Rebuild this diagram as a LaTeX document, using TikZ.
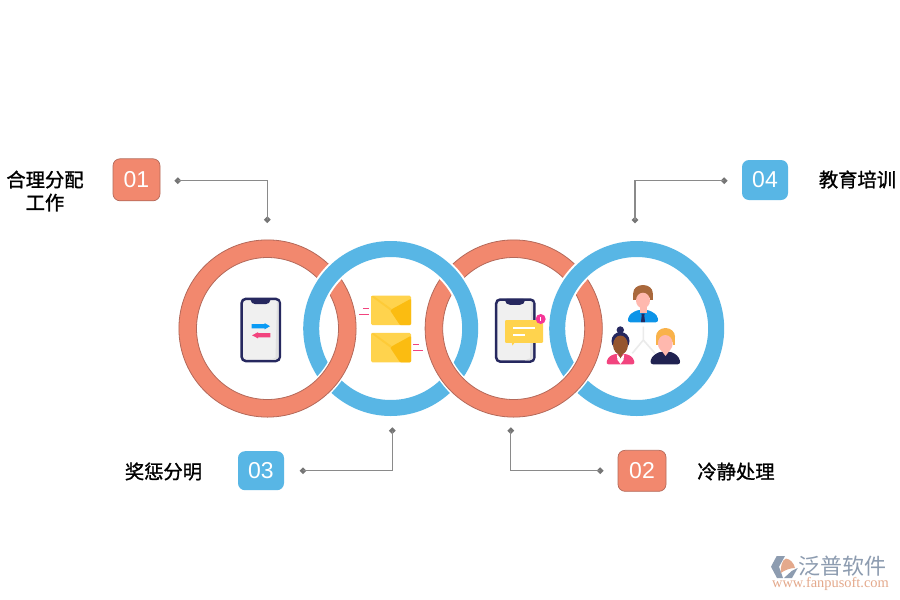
\documentclass[tikz,border=0pt]{standalone}
\usepackage{fontspec}
\setmainfont{Liberation Sans}
\newfontfamily\cjk[FakeBold=1.2]{Noto Sans CJK SC}
\newfontfamily\cjkplain{Noto Sans CJK SC}
\newfontfamily\serifw{Liberation Serif}
\usetikzlibrary{shapes.geometric,calc}
\definecolor{salmon}{HTML}{F2886E}
\definecolor{salmonedge}{HTML}{B4695A}
\definecolor{skyb}{HTML}{58B6E5}
\definecolor{navy}{HTML}{26285F}
\definecolor{connG}{HTML}{8A8A8A}
\definecolor{yell}{HTML}{FFD34D}
\definecolor{yelld}{HTML}{FBBC11}
\definecolor{pinkm}{HTML}{F2447E}
\definecolor{skin}{HTML}{FFB8AE}
\definecolor{arrowb}{HTML}{0A9BF5}
\definecolor{shirtb}{HTML}{0D94E8}
\definecolor{hairb}{HTML}{A9683C}
\definecolor{skinb}{HTML}{96562F}
\definecolor{hairy}{HTML}{F9B24A}
\definecolor{wmgray}{HTML}{8D9CB0}
\definecolor{wmor}{HTML}{E4A98C}
\tikzset{
  lab/.style={font=\cjk\fontsize{19.3}{23}\selectfont,align=center,text=black,inner sep=0pt},
  badge/.style={minimum width=47pt,minimum height=41pt,rounded corners=7pt,inner sep=0pt,text=white,font=\fontsize{23}{23}\selectfont},
  badgeS/.style={badge,fill=salmon,draw=salmonedge,line width=.7pt},
  badgeB/.style={badge,fill=skyb},
  dot/.style={diamond,fill=connG!85!black,minimum size=7pt,inner sep=0pt},
  conn/.style={draw=connG,line width=1.3pt},
  dashp/.style={draw=pinkm,line width=1pt},
}
\newcommand{\salmonring}[1]{%
  \draw[white,line width=21.5pt] (#1) circle[radius=79.8];
  \draw[salmon,line width=17.6pt] (#1) circle[radius=79.8];
  \draw[salmonedge,line width=.8pt] (#1) circle[radius=88.6] (#1) circle[radius=71];
}
\newcommand{\bluering}[1]{%
  \draw[white,line width=20pt] (#1) circle[radius=79.5];
  \draw[skyb,line width=16pt] (#1) circle[radius=79.5];
}
\newcommand{\envelope}[1]{%
  \begin{scope}[shift={(#1)}]
    \fill[yell,rounded corners=1.5pt] (0,0) rectangle (40,29.5);
    \fill[yelld,rounded corners=1pt] (29,29.5) -- (19,14.5) -- (40,3) -- (40,29.5) -- cycle;
    \fill[yelld!35!yell] (0,0.5) -- (19,14.5) -- (21,13.5) -- (3,0.5) -- cycle;
  \end{scope}
}
\newcommand{\phonebody}[1]{%
  \begin{scope}[shift={(#1)}]
    \draw[navy,fill=white!94!black,line width=2.5pt,rounded corners=4pt] (1.2,1.2) rectangle (39.3,63.3);
    \fill[black!12] (36.5,4) -- (38,4) -- (38,60) -- (35,62) -- (30,62) -- (35,60) -- cycle;
    \fill[navy,rounded corners=2pt] (10,0.5) -- (30,0.5) -- (30,4) -- (27,6.5) -- (13,6.5) -- (10,4) -- cycle;
  \end{scope}
}
\begin{document}
\begin{tikzpicture}[x=1pt,y=-1pt]
\useasboundingbox (0,0) rectangle (900,600);
\fill[white] (0,0) rectangle (900,600);
\coordinate (r1) at (267.5,328.5);
\coordinate (r2) at (390.7,328.5);
\coordinate (r3) at (513.7,328.5);
\coordinate (r4) at (636.7,328.5);
% rings: blue passes over salmon at the top crossings, under at the bottom
\salmonring{r1}
\salmonring{r3}
\bluering{r2}
\bluering{r4}
\begin{scope}
  \clip (0,328.5) rectangle (900,600);
  \salmonring{r1}
  \salmonring{r3}
\end{scope}
% phone 1
\phonebody{240.5,297.7}
\fill[arrowb] (251.7,324) -- (264.5,324) -- (264.5,323) -- (270,326.2) -- (264.5,329.4) -- (264.5,328.3) -- (251.7,328.3) -- cycle;
\fill[pinkm] (270.3,333.2) -- (258,333.2) -- (258,332.2) -- (252,335.3) -- (258,338.4) -- (258,337.4) -- (270.3,337.4) -- cycle;
% envelopes
\envelope{371,295.7}
\envelope{371,332.8}
\draw[dashp] (363.3,308) -- (369,308) (359,314.3) -- (369,314.3);
\draw[dashp] (413.3,344) -- (419,344) (413.3,350) -- (423.3,350);
% phone 2
\phonebody{495,298.3}
\fill[yell,rounded corners=1pt] (505,320) rectangle (543,342.8);
\fill[yell] (511.5,342) -- (515,342) -- (512.5,345.5) -- cycle;
\draw[white,line width=1.2pt] (513.3,328) -- (535,328) (513.3,335) -- (525,335);
\fill[pinkm!80!magenta] (540.7,319) circle[radius=5];
\draw[white,line width=1pt] (540.7,316.8) -- (540.7,321.2);
% people
\draw[black!8,line width=1.6pt] (643.3,326.7) -- (643.3,340) -- (632.3,353.3) (643.3,340) -- (655,353.3);
% top person
\fill[shirtb,rounded corners=3pt] (627.3,322.3) -- (629,315) -- (637,310) -- (649,310) -- (657,315) -- (658.7,322.3) -- cycle;
\fill[skin] (639.5,305) rectangle (646.5,312.5);
\fill[hairb] (643,292.5) ellipse[x radius=9.7,y radius=7.5];
\fill[hairb] (633.3,292.5) rectangle (636.5,300);
\fill[hairb] (649.5,292.5) rectangle (652.7,300);
\fill[skin] (643,300.5) ellipse[x radius=7,y radius=7.8];
\fill[navy] (641.3,313.5) -- (644.7,313.5) -- (644.3,315.5) -- (645,322) -- (641,322) -- (641.7,315.5) -- cycle;
% woman
\fill[navy] (620.3,330) circle[radius=3.7];
\fill[navy] (620.5,341) circle[radius=9];
\fill[skinb] (620.5,345) ellipse[x radius=7.4,y radius=9.5];
\fill[pinkm,rounded corners=2.5pt] (606,364.3) -- (608,357.5) -- (614,354) -- (627,354) -- (633,357.5) -- (635,364.3) -- cycle;
\fill[white] (616.8,354) -- (620.5,358) -- (624.2,354) -- (623.5,360) -- (620.5,364) -- (617.5,360) -- cycle;
\fill[skinb] (617,351) -- (624,351) -- (620.5,358.5) -- cycle;
% man
\fill[navy!85!black,rounded corners=3pt] (650,364.3) -- (651.5,357) -- (659,351.8) -- (672,351.8) -- (679,357) -- (680.7,364.3) -- cycle;
\fill[hairy] (665.5,336.5) ellipse[x radius=9.5,y radius=8.5];
\fill[hairy] (656,336.5) rectangle (658.5,345);
\fill[hairy] (672.5,336.5) rectangle (675,345);
\fill[skin] (665.3,343.5) ellipse[x radius=7.4,y radius=8.5];
\fill[skin] (661,350) -- (670,350) -- (665.5,356) -- cycle;
% connectors
\node[dot] (d1a) at (177.8,180.7) {};
\node[dot] (d1b) at (267.3,219.7) {};
\node[dot] (d4a) at (724.2,180.7) {};
\node[dot] (d4b) at (635,220) {};
\node[dot] (d3a) at (303,470.7) {};
\node[dot] (d3b) at (392.3,430.7) {};
\node[dot] (d2a) at (600.2,470.7) {};
\node[dot] (d2b) at (510.8,430.7) {};
\draw[conn] (d1a.center) -| (d1b.center);
\draw[conn] (d4a.center) -| (d4b.center);
\draw[conn] (d3a.center) -| (d3b.center);
\draw[conn] (d2a.center) -| (d2b.center);
% badges
\node[badgeS,minimum width=47pt,minimum height=42pt] (b1) at (136.5,179.8) {01};
\node[badgeB,minimum width=46pt,minimum height=40pt] (b4) at (765,180) {04};
\node[badgeB,minimum width=46pt,minimum height=39pt] (b3) at (261,470.7) {03};
\node[badgeS,minimum width=48pt,minimum height=41pt] (b2) at (642,470.8) {02};
% labels
\node[lab] (l1) at (45,191) {合理分配\\工作};
\node[lab] (l4) at (857.5,179.5) {教育培训};
\node[lab] (l3) at (163.5,471.5) {奖惩分明};
\node[lab] (l2) at (736,471.5) {冷静处理};
% watermark
\fill[wmgray] (771,566.7) -- (776.7,556) -- (785,556) -- (779,566.7) -- (783,578) -- (777,578) -- cycle;
\fill[wmor] (780.7,573) .. controls (780.5,566) and (782,560) .. (786,558.5) .. controls (790,559) and (794,563) .. (795,568) .. controls (790,568) and (785,570) .. (780.7,573) -- cycle;
\fill[wmgray] (784,578) -- (792,578) -- (797.7,568) -- (791.7,571) -- cycle;
\node[font=\cjkplain\fontsize{22}{22}\selectfont,text=wmgray,inner sep=0pt] (wm1) at (842.5,566.5) {泛普软件};
\node[font=\serifw\fontsize{14.4}{14}\selectfont,text=wmor,inner sep=0pt] (wm2) at (830.5,584) {www.fanpusoft.com};
\end{tikzpicture}
\end{document}
